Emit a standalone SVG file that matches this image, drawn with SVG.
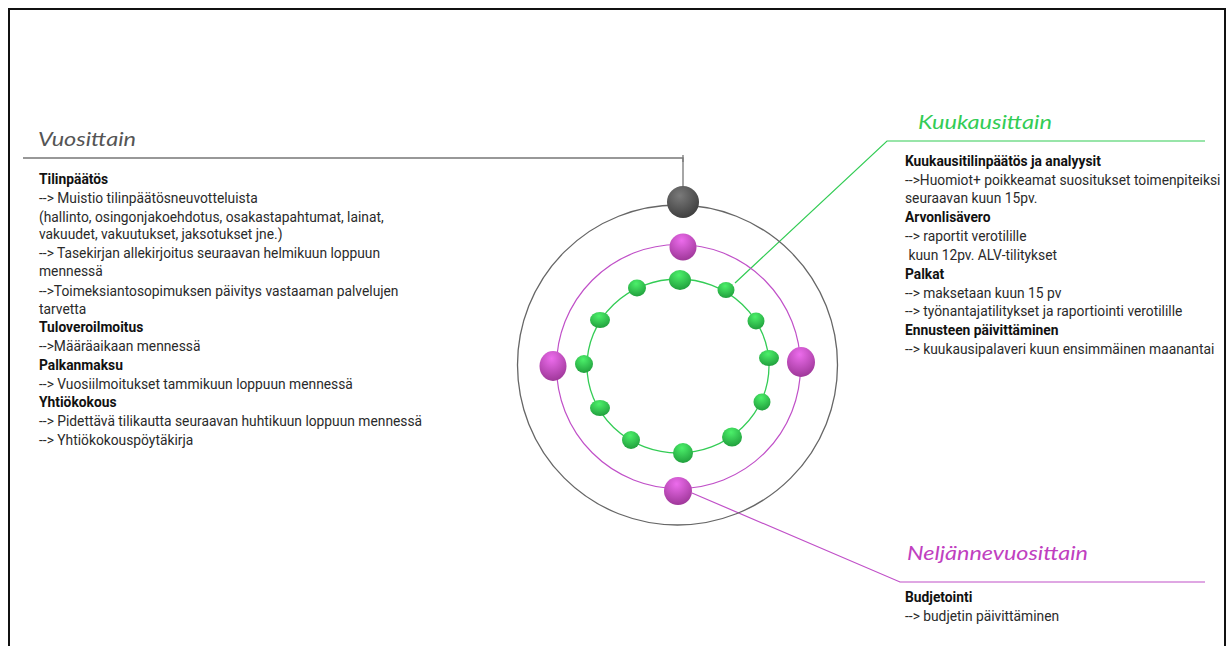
<svg xmlns="http://www.w3.org/2000/svg" width="1232" height="646" viewBox="0 0 1232 646">
<defs>
<radialGradient id="gGray" cx="0.4" cy="0.3" r="0.75"><stop offset="0" stop-color="#7a7a7a"/><stop offset="1" stop-color="#3c3c3c"/></radialGradient>
<radialGradient id="gPurple" cx="0.45" cy="0.25" r="0.8"><stop offset="0" stop-color="#ec6cec"/><stop offset="1" stop-color="#9a3494"/></radialGradient>
<radialGradient id="gGreen" cx="0.45" cy="0.25" r="0.8"><stop offset="0" stop-color="#4cf06a"/><stop offset="1" stop-color="#1e9a3a"/></radialGradient>
<style>
.t{font-family:Roboto,"Liberation Sans",sans-serif;font-size:13.8px;fill:#2a2a2a}
.b{font-weight:bold;fill:#111}
.h{font-family:Lato,"Open Sans",sans-serif;font-style:italic;font-size:20px}
.ring{fill:none}
</style>
</defs>
<rect width="1232" height="646" fill="#fff"/>
<path d="M9 646 V9 H1225 V646" fill="none" stroke="#111" stroke-width="2"/>

<g id="connectors" fill="none">
<path d="M23 158 H683 V188" stroke="#777" stroke-width="1.3"/>
<path d="M683 155 V162" stroke="#777" stroke-width="1.3"/>
<path d="M735 283 L887 141 H1205" stroke="#33cc55" stroke-width="1.2"/>
<path d="M692 493 L900 582 H1205" stroke="#c050c8" stroke-width="1.2"/>
</g>

<g id="rings">
<circle class="ring" cx="677.5" cy="365" r="160" stroke="#666" stroke-width="1.3"/>
<circle class="ring" cx="678.5" cy="366.5" r="122" stroke="#c050c8" stroke-width="1.2"/>
<ellipse class="ring" cx="678" cy="366" rx="91" ry="87" stroke="#33cc55" stroke-width="1.3"/>
</g>

<g id="node-vuosittain-ball"><circle cx="683" cy="202" r="16" fill="url(#gGray)"/></g>
<g id="node-quarter-balls" fill="url(#gPurple)">
<circle cx="683" cy="247" r="13.5"/>
<ellipse cx="553" cy="366" rx="13.5" ry="15"/>
<ellipse cx="801" cy="362" rx="14" ry="15"/>
<circle cx="678" cy="491" r="14"/>
</g>
<g id="node-month-balls" fill="url(#gGreen)">
<ellipse cx="680" cy="280" rx="11" ry="10"/>
<ellipse cx="637" cy="288" rx="9" ry="8.5"/>
<ellipse cx="726" cy="290" rx="8.5" ry="8"/>
<ellipse cx="600" cy="320" rx="10" ry="8"/>
<ellipse cx="756" cy="321" rx="8.5" ry="8.5"/>
<ellipse cx="584" cy="364" rx="9" ry="9"/>
<ellipse cx="769" cy="358" rx="10" ry="8"/>
<ellipse cx="600" cy="408" rx="10" ry="8"/>
<ellipse cx="762" cy="402" rx="8.5" ry="8.5"/>
<ellipse cx="631" cy="440" rx="9" ry="9"/>
<ellipse cx="732" cy="437" rx="10" ry="9.5"/>
<ellipse cx="683" cy="453" rx="10" ry="10"/>
</g>

<g id="node-vuosittain">
<text class="h" x="38" y="146" fill="#555" textLength="98" lengthAdjust="spacingAndGlyphs">Vuosittain</text>
<text class="t" x="39" y="184"><tspan class="b">Tilinpäätös</tspan></text>
<text class="t" x="39" y="203">--&gt; Muistio tilinpäätösneuvotteluista</text>
<text class="t" x="39" y="222">(hallinto, osingonjakoehdotus, osakastapahtumat, lainat,</text>
<text class="t" x="39" y="239">vakuudet, vakuutukset, jaksotukset jne.)</text>
<text class="t" x="39" y="258">--&gt; Tasekirjan allekirjoitus seuraavan helmikuun loppuun</text>
<text class="t" x="39" y="276">mennessä</text>
<text class="t" x="39" y="296">--&gt;Toimeksiantosopimuksen päivitys vastaaman palvelujen</text>
<text class="t" x="39" y="314">tarvetta</text>
<text class="t b" x="39" y="332">Tuloveroilmoitus</text>
<text class="t" x="39" y="351">--&gt;Määräaikaan mennessä</text>
<text class="t b" x="39" y="370">Palkanmaksu</text>
<text class="t" x="39" y="389">--&gt; Vuosiilmoitukset tammikuun loppuun mennessä</text>
<text class="t b" x="39" y="407">Yhtiökokous</text>
<text class="t" x="39" y="426">--&gt; Pidettävä tilikautta seuraavan huhtikuun loppuun mennessä</text>
<text class="t" x="39" y="445">--&gt; Yhtiökokouspöytäkirja</text>
</g>

<g id="node-kuukausittain">
<text class="h" x="918" y="129" fill="#33cc55" textLength="134" lengthAdjust="spacingAndGlyphs">Kuukausittain</text>
<text class="t b" x="905" y="166">Kuukausitilinpäätös ja analyysit</text>
<text class="t" x="905" y="185">--&gt;Huomiot+ poikkeamat suositukset toimenpiteiksi</text>
<text class="t" x="905" y="203">seuraavan kuun 15pv.</text>
<text class="t b" x="905" y="222">Arvonlisävero</text>
<text class="t" x="905" y="241">--&gt; raportit verotilille</text>
<text class="t" x="905" y="260" xml:space="preserve"> kuun 12pv. ALV-tilitykset</text>
<text class="t b" x="905" y="279">Palkat</text>
<text class="t" x="905" y="298">--&gt; maksetaan kuun 15 pv</text>
<text class="t" x="905" y="316">--&gt; työnantajatilitykset ja raportiointi verotilille</text>
<text class="t b" x="905" y="335">Ennusteen päivittäminen</text>
<text class="t" x="905" y="354">--&gt; kuukausipalaveri kuun ensimmäinen maanantai</text>
</g>

<g id="node-neljannevuosittain">
<text class="h" x="907" y="560" fill="#c040c0" textLength="181" lengthAdjust="spacingAndGlyphs">Neljännevuosittain</text>
<text class="t b" x="905" y="602">Budjetointi</text>
<text class="t" x="905" y="621">--&gt; budjetin päivittäminen</text>
</g>
</svg>
